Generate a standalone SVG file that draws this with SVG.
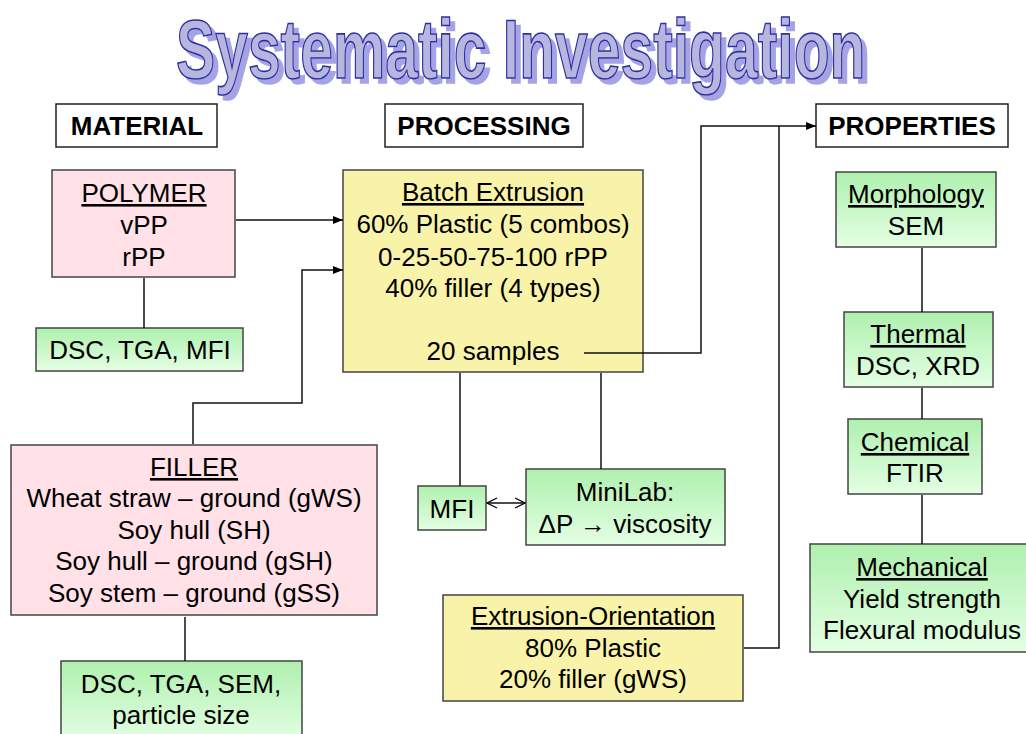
<svg xmlns="http://www.w3.org/2000/svg" width="1026" height="734" viewBox="0 0 1026 734">
<defs>
<linearGradient id="green" x1="0" y1="0" x2="0" y2="1">
<stop offset="0" stop-color="#aef0ae"/>
<stop offset="1" stop-color="#e4ffe4"/>
</linearGradient>
<filter id="shadow" x="-5%" y="-10%" width="115%" height="130%">
<feOffset in="SourceAlpha" dx="5" dy="5" result="off"/>
<feFlood flood-color="#9a9ae2" flood-opacity="0.9"/>
<feComposite in2="off" operator="in" result="sh"/>
<feMerge><feMergeNode in="sh"/><feMergeNode in="SourceGraphic"/></feMerge>
</filter>
<marker id="arr" markerWidth="10" markerHeight="8" refX="10" refY="4" orient="auto" markerUnits="userSpaceOnUse">
<path d="M0,0 L10,4 L0,8 z" fill="#000"/>
</marker>
<marker id="open" markerWidth="12" markerHeight="12" refX="11" refY="6" orient="auto-start-reverse" markerUnits="userSpaceOnUse">
<path d="M1,1 L11,6 L1,11" fill="none" stroke="#000" stroke-width="1.3"/>
</marker>
</defs>
<style>
text{font-family:"Liberation Sans",Arial,sans-serif;font-size:26px;fill:#000;text-anchor:middle}
.h{font-weight:bold}
.u{text-decoration:underline}
.hdr{fill:#fff;stroke:#222;stroke-width:1.5}
.pink{fill:#ffe1e7;stroke:#444;stroke-width:1.5}
.yel{fill:#f9f3a9;stroke:#444;stroke-width:1.5}
.grn{fill:url(#green);stroke:#444;stroke-width:1.5}
.c{fill:none;stroke:#111;stroke-width:1.5}
.title{font-weight:bold;font-size:84px;text-anchor:start;fill:#b6b6de;stroke:#2f2fa6;stroke-width:1.6}
</style>
<rect width="1026" height="734" fill="#fff"/>

<g id="title" filter="url(#shadow)">
<text class="title" transform="translate(176,78) scale(0.7,1)" x="0" y="0">Systematic Investigation</text>
</g>

<g id="material">
<rect class="hdr" x="56" y="104" width="161" height="43"/>
<text class="h" x="137" y="135">MATERIAL</text>
</g>
<g id="processing">
<rect class="hdr" x="385" y="104" width="198" height="43"/>
<text class="h" x="484" y="135">PROCESSING</text>
</g>
<g id="properties">
<rect class="hdr" x="816" y="104" width="192" height="43"/>
<text class="h" x="912" y="135">PROPERTIES</text>
</g>

<g id="polymer">
<rect class="pink" x="52" y="170" width="183" height="107"/>
<text class="u" x="144" y="202">POLYMER</text>
<text x="144" y="234">vPP</text>
<text x="144" y="266">rPP</text>
</g>
<g id="polymer-tests">
<rect class="grn" x="36" y="328" width="207" height="43"/>
<text x="140" y="359">DSC, TGA, MFI</text>
</g>

<g id="filler">
<rect class="pink" x="11" y="445" width="366" height="170"/>
<text class="u" x="194" y="476">FILLER</text>
<text x="194" y="507">Wheat straw – ground (gWS)</text>
<text x="194" y="539">Soy hull (SH)</text>
<text x="194" y="570">Soy hull – ground (gSH)</text>
<text x="194" y="602">Soy stem – ground (gSS)</text>
</g>
<g id="filler-tests">
<rect class="grn" x="61" y="661" width="241" height="80"/>
<text x="181" y="693">DSC, TGA, SEM,</text>
<text x="181" y="724">particle size</text>
</g>

<g id="batch">
<rect class="yel" x="343" y="170" width="300" height="202"/>
<text class="u" x="493" y="201">Batch Extrusion</text>
<text x="493" y="233">60% Plastic (5 combos)</text>
<text x="493" y="266">0-25-50-75-100 rPP</text>
<text x="493" y="297">40% filler (4 types)</text>
<text x="493" y="360">20 samples</text>
</g>

<g id="mfi">
<rect class="grn" x="418" y="486" width="68" height="44"/>
<text x="452" y="518">MFI</text>
</g>
<g id="minilab">
<rect class="grn" x="526" y="469" width="199" height="76"/>
<text x="625" y="501">MiniLab:</text>
<text x="625" y="533">ΔP → viscosity</text>
</g>

<g id="extrusion-orientation">
<rect class="yel" x="443" y="595" width="300" height="106"/>
<text class="u" x="593" y="625">Extrusion-Orientation</text>
<text x="593" y="657">80% Plastic</text>
<text x="593" y="688">20% filler (gWS)</text>
</g>

<g id="morphology">
<rect class="grn" x="836" y="172" width="160" height="75"/>
<text class="u" x="916" y="203">Morphology</text>
<text x="916" y="235">SEM</text>
</g>
<g id="thermal">
<rect class="grn" x="844" y="312" width="149" height="75"/>
<text class="u" x="918" y="343">Thermal</text>
<text x="918" y="375">DSC, XRD</text>
</g>
<g id="chemical">
<rect class="grn" x="848" y="419" width="134" height="75"/>
<text class="u" x="915" y="451">Chemical</text>
<text x="915" y="482">FTIR</text>
</g>
<g id="mechanical">
<rect class="grn" x="810" y="544" width="222" height="108"/>
<text class="u" x="922" y="576">Mechanical</text>
<text x="922" y="608">Yield strength</text>
<text x="922" y="639">Flexural modulus</text>
</g>

<g id="connectors">
<path class="c" d="M236,220 H343" marker-end="url(#arr)"/>
<path class="c" d="M193,444 V403 H302 V270 H343" marker-end="url(#arr)"/>
<path class="c" d="M144,278 V328"/>
<path class="c" d="M185,617 V661"/>
<path class="c" d="M584,353 H701 V126 H816" marker-end="url(#arr)"/>
<path class="c" d="M744,648 H779 V126"/>
<path class="c" d="M460,373 V486"/>
<path class="c" d="M601,373 V469"/>
<path class="c" d="M487,503 H525" marker-start="url(#open)" marker-end="url(#open)"/>
<path class="c" d="M922,248 V312"/>
<path class="c" d="M922,388 V419"/>
<path class="c" d="M922,495 V544"/>
</g>
</svg>
